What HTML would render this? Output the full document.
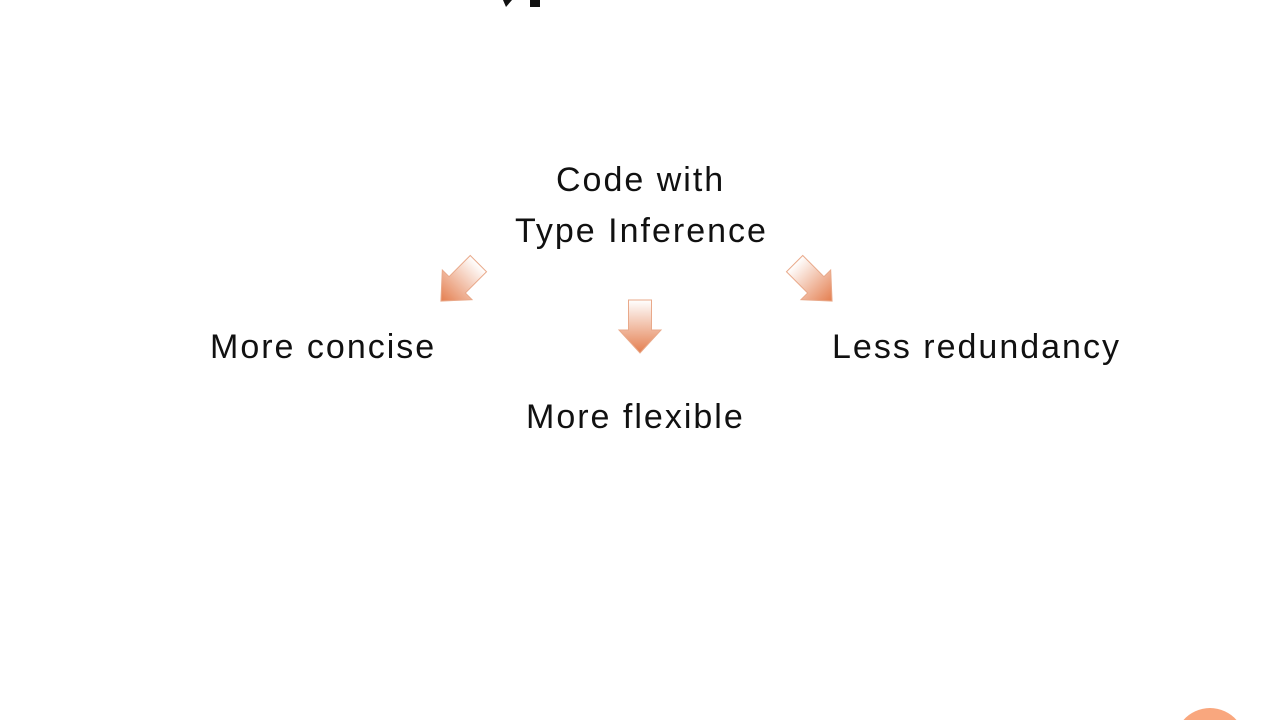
<!DOCTYPE html>
<html><head><meta charset="utf-8"><style>
html,body{margin:0;padding:0;background:#fff;overflow:hidden;width:1280px;height:720px;}
body{position:relative;font-family:"Comic Sans MS","Liberation Sans",sans-serif;color:#111;}
.t{position:absolute;font-size:34px;white-space:nowrap;line-height:1;letter-spacing:2px;}
</style></head><body>
<svg width="1280" height="720" style="position:absolute;left:0;top:0;overflow:hidden">
<defs>
<linearGradient id="g" x1="0" y1="0" x2="0" y2="1">
<stop offset="0" stop-color="#ffffff"/><stop offset="1" stop-color="#e47e4f"/>
</linearGradient>
</defs>
<g transform="translate(640,326)">
<polygon points="-11.5,-26 11.5,-26 11.5,4 21,4 0,27 -21,4 -11.5,4" fill="url(#g)" stroke="#e9a98a" stroke-width="1"/>
</g>
<g transform="translate(460,282) rotate(45)">
<polygon points="-11.5,-26 11.5,-26 11.5,4 21,4 0,27 -21,4 -11.5,4" fill="url(#g)" stroke="#e9a98a" stroke-width="1"/>
</g>
<g transform="translate(813,282) rotate(-45)">
<polygon points="-11.5,-26 11.5,-26 11.5,4 21,4 0,27 -21,4 -11.5,4" fill="url(#g)" stroke="#e9a98a" stroke-width="1"/>
</g>
<path d="M1183.5,720 A34,32 0 0 1 1236.5,720 Z" fill="#f9a77e"/>
<path d="M503,0 L512,0 L506,7 Z M530,0 L540,0 L540,7 L530,7 Z" fill="#111"/>
</svg>
<div class="t" style="left:556px;top:163px;">Code with</div>
<div class="t" style="left:515px;top:214px;">Type Inference</div>
<div class="t" style="left:210px;top:330px;">More concise</div>
<div class="t" style="left:832px;top:330px;">Less redundancy</div>
<div class="t" style="left:526px;top:400px;">More flexible</div>
</body></html>
